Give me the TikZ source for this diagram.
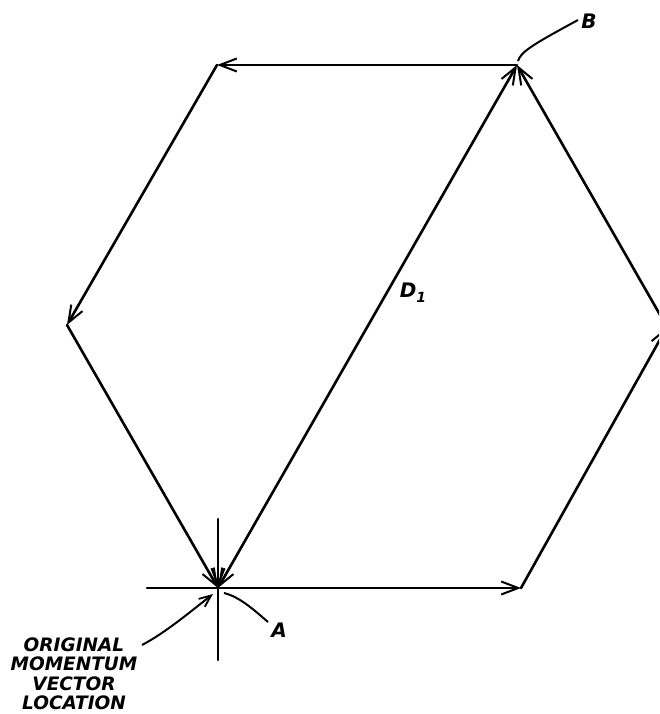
\documentclass[tikz,border=0pt]{standalone}
\usepackage{fontspec}
\setsansfont{DejaVu Sans}
\usetikzlibrary{arrows.meta}
\tikzset{
  edge/.style={line width=2.6pt, line cap=round},
  tip/.tip={Straight Barb[length=17pt,width=13pt,line width=2pt]},
  vec/.style={edge, -tip},
  leader/.style={line width=2pt},
  lbl/.style={font=\sffamily\bfseries\itshape\fontsize{20}{22}\selectfont, inner sep=0pt},
}
\begin{document}
\begin{tikzpicture}[x=1pt,y=-1pt]
\clip (0,0) rectangle (659,714);
\fill[white] (0,0) rectangle (659,714);
% vertices
\coordinate (A) at (218,588);
\coordinate (BR) at (521,588);
\coordinate (R) at (667,327);
\coordinate (B) at (517,65);
\coordinate (TL) at (217,65);
\coordinate (L) at (67,325);
\coordinate (H1) at (147,588);
\coordinate (V1) at (218,519);
\coordinate (V2) at (218,660);
% hexagon edges
\draw[vec] (A) -- (BR);
\draw[vec] (BR) -- (R);
\draw[vec] (R) -- (B);
\draw[vec] (B) -- (TL);
\draw[vec] (TL) -- (L);
\draw[vec] (L) -- (A);
% diagonal D1
\draw[edge, tip-tip] (A) -- (B);
% crosshair
\draw[edge] (H1) -- (A);
\draw[vec] (V1) -- (A);
\draw[edge] (A) -- (V2);
% labels
\node[lbl] (la) at (279,630) {A};
\node[lbl] (lb) at (589,21) {B};
\node[lbl] (ld) at (413,293) {D\raisebox{-5pt}{\fontsize{14}{14}\selectfont 1}};
\node[lbl, font=\sffamily\bfseries\itshape\fontsize{18.5}{19.5}\selectfont, align=center] (orig) at (74,674) {ORIGINAL\\MOMENTUM\\VECTOR\\LOCATION};
\coordinate (ae) at (224,593);
\coordinate (be) at (518,61);
\coordinate (oa) at (142,645);
\coordinate (ot) at (213,594);
\draw[leader] (ae) .. controls (240,597) and (254,610) .. (268,622);
\draw[leader] (be) .. controls (521,52) and (530,46) .. (578,20);
\draw[leader, -{Straight Barb[length=12pt,width=10pt,line width=1.8pt]}] (oa) .. controls (165,633) and (190,612) .. (ot);
\end{tikzpicture}
\end{document}
